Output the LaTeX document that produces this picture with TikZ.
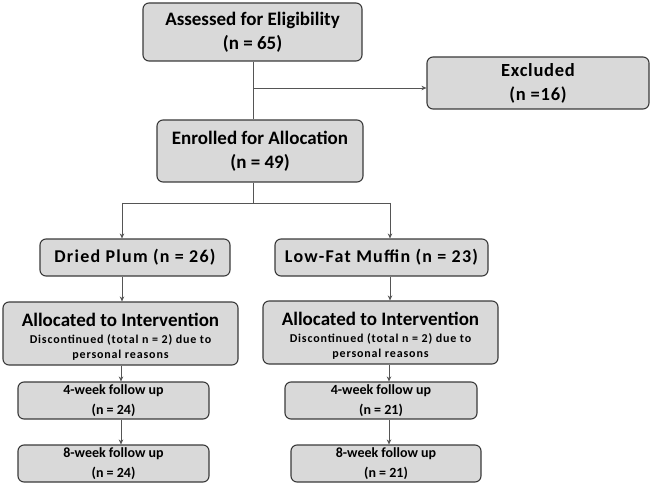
\documentclass[tikz,border=0pt]{standalone}
\usepackage{fontspec}
\setmainfont{Carlito}
\newfontfamily\lsfont[LetterSpace=7]{Carlito}
\newfontfamily\lssfont[LetterSpace=4]{Carlito}
\usetikzlibrary{arrows.meta}
\definecolor{boxfill}{HTML}{D9D9D9}
\definecolor{boxdraw}{HTML}{3A3A3A}
\definecolor{linec}{HTML}{555555}
\tikzset{
  x=1pt,y=-1pt,
  box/.style={draw=boxdraw,fill=boxfill,line width=1.1pt,rounded corners=6pt,align=center,inner sep=0pt},
  conn/.style={draw=linec,line width=0.6pt},
  arr/.style={conn,-{Stealth[length=5pt,width=4.5pt]},},
}
\newcommand{\bigf}{\normalfont\fontsize{19}{24}\selectfont\bfseries}
\newcommand{\exf}{\lssfont\fontsize{18.5}{24}\selectfont\bfseries}
\newcommand{\midf}{\lsfont\fontsize{18}{22}\selectfont\bfseries}
\newcommand{\smallf}{\lsfont\fontsize{12}{15}\selectfont\bfseries}
\newcommand{\folf}{\fontsize{14}{20}\selectfont\bfseries}
\begin{document}
\begin{tikzpicture}
\useasboundingbox (0,0) rectangle (652,486);
\node[box,minimum width=219pt,minimum height=58pt,font=\bigf] (assess) at (252.5,32) {Assessed for Eligibility\\(n = 65)};
\node[box,minimum width=222pt,minimum height=52pt,font=\exf] (excl) at (538,83) {Excluded\\(n =16)};
\node[box,minimum width=206pt,minimum height=62pt,font=\bigf] (enroll) at (260,151) {Enrolled for Allocation\\(n = 49)};
\node[box,minimum width=190pt,minimum height=37pt,font=\midf] (dried) at (135,257.5) {Dried Plum (n = 26)};
\node[box,minimum width=213pt,minimum height=37pt,font=\midf] (muffin) at (381.5,257.5) {Low-Fat Muffin (n = 23)};
\node[box,minimum width=235pt,minimum height=63pt,font=\smallf] (allocL) at (120.5,333.5) {{\bigf\rule{0pt}{20pt}Allocated to Intervention}\\[2pt]Discontinued (total n = 2) due to\\personal reasons};
\node[box,minimum width=235pt,minimum height=63pt,font=\smallf] (allocR) at (380.5,332.5) {{\bigf\rule{0pt}{20pt}Allocated to Intervention}\\[2pt]Discontinued (total n = 2) due to\\personal reasons};
\node[box,minimum width=191pt,minimum height=37pt,font=\folf] (w4L) at (113.5,400.5) {4-week follow up\\(n = 24)};
\node[box,minimum width=191pt,minimum height=37pt,font=\folf] (w8L) at (113.5,463.5) {8-week follow up\\(n = 24)};
\node[box,minimum width=192pt,minimum height=37pt,font=\folf] (w4R) at (381,400.5) {4-week follow up\\(n = 21)};
\node[box,minimum width=190pt,minimum height=37pt,font=\folf] (w8R) at (386,463.5) {8-week follow up\\(n = 21)};
\coordinate (j1) at (253,88);
\coordinate (j2) at (253,203);
\coordinate (jL) at (122,203);
\coordinate (jR) at (390,203);
\draw[conn] (j1 |- assess.south) -- (j1 |- enroll.north);
\draw[arr] (j1) -- (j1 -| excl.west);
\draw[conn] (j2 |- enroll.south) -- (j2);
\draw[conn] (jL) -- (jR);
\draw[arr] (jL) -- (jL |- dried.north);
\draw[arr] (jR) -- (jR |- muffin.north);
\coordinate (cL) at (122,0);
\coordinate (cR) at (390,0);
\draw[arr] (cL |- dried.south) -- (cL |- allocL.north);
\draw[arr] (cR |- muffin.south) -- (cR |- allocR.north);
\coordinate (dL) at (121,0);
\coordinate (dR) at (389,0);
\draw[arr] (dL |- allocL.south) -- (dL |- w4L.north);
\draw[arr] (dR |- allocR.south) -- (dR |- w4R.north);
\draw[arr] (dL |- w4L.south) -- (dL |- w8L.north);
\draw[arr] (dR |- w4R.south) -- (dR |- w8R.north);
\end{tikzpicture}
\end{document}
